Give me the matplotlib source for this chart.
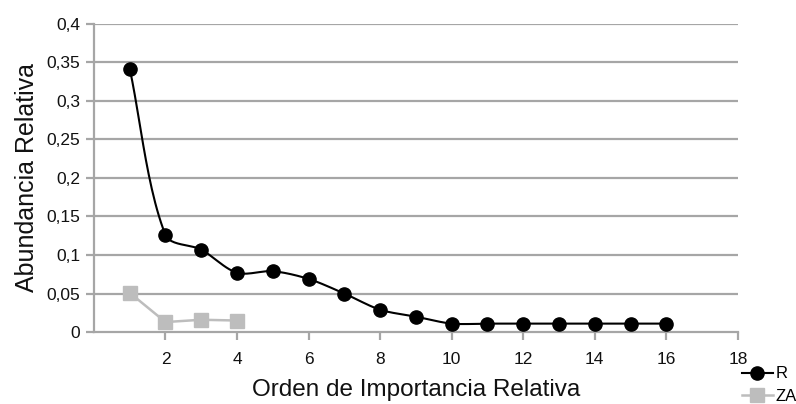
import numpy as np
import matplotlib
matplotlib.use("Agg")
import matplotlib.pyplot as plt
from matplotlib.ticker import FuncFormatter

plt.rcParams['font.family'] = ['Liberation Sans', 'DejaVu Sans']

# data
orden_r = [1, 2, 3, 4, 5, 6, 7, 8, 9, 10, 11, 12, 13, 14, 15, 16]
abund_r = [0.342, 0.126, 0.107, 0.077, 0.079, 0.069, 0.050, 0.029, 0.020,
           0.011, 0.011, 0.011, 0.011, 0.011, 0.011, 0.011]
orden_za = [1, 2, 3, 4]
abund_za = [0.051, 0.013, 0.016, 0.015]

X_MAX, Y_MAX = 18, 0.4
AX_BOX = [0.118, 0.178, 0.809, 0.763]
FIG_W, FIG_H = 7.96, 4.04


def smooth(x, y, sx, sy, k=0.3, n=25):
    # smoothed line like the spreadsheet one: bezier pieces built in
    # screen space, tangent along neighbour chord, handle = k * segment
    p = np.column_stack([np.asarray(x, float) * sx, np.asarray(y, float) * sy])
    npts = len(p)
    tang = np.zeros_like(p)
    for i in range(npts):
        a = p[max(i - 1, 0)]
        b = p[min(i + 1, npts - 1)]
        v = b - a
        tang[i] = v / np.hypot(*v)
    t = np.linspace(0, 1, n)[:, None]
    out = []
    for i in range(npts - 1):
        L = np.hypot(*(p[i + 1] - p[i]))
        c1 = p[i] + k * L * tang[i]
        c2 = p[i + 1] - k * L * tang[i + 1]
        seg = (1 - t)**3 * p[i] + 3 * (1 - t)**2 * t * c1 \
            + 3 * (1 - t) * t**2 * c2 + t**3 * p[i + 1]
        out.append(seg)
    out = np.vstack(out)
    return out[:, 0] / sx, out[:, 1] / sy


fig = plt.figure(figsize=(FIG_W, FIG_H), dpi=100)
ax = fig.add_axes(AX_BOX)

grey = '#a6a6a6'
for yv in np.arange(0.05, 0.401, 0.05):
    ax.axhline(yv, color=grey, lw=1.6, zorder=1)

px_x = AX_BOX[2] * FIG_W * 100 / X_MAX
px_y = AX_BOX[3] * FIG_H * 100 / Y_MAX
cx, cy = smooth(orden_r, abund_r, px_x, px_y)
ax.plot(cx, cy, color='black', lw=1.5, zorder=3)
ax.plot(orden_r, abund_r, ls='none', marker='o', ms=9.5, color='black', zorder=4)
ax.plot(orden_za, abund_za, color='#bdbdbd', lw=1.8, marker='s', ms=10,
        zorder=3)

ax.set_xlim(0, X_MAX)
ax.set_ylim(0, Y_MAX)
ax.set_xticks(range(2, 19, 2))
ax.set_yticks(np.arange(0, 0.401, 0.05))
fmt = FuncFormatter(lambda v, p: ('%g' % round(v, 2)).replace('.', ','))
ax.yaxis.set_major_formatter(fmt)

for s in ['top', 'right']:
    ax.spines[s].set_visible(False)
for s in ['left', 'bottom']:
    ax.spines[s].set_color(grey)
    ax.spines[s].set_linewidth(1.6)
ax.tick_params(axis='both', colors=grey, width=1.6, length=6,
               labelcolor='#111111', labelsize=12.5)
ax.tick_params(axis='x', pad=8)
ax.tick_params(axis='y', pad=4)

ax.set_xlabel('Orden de Importancia Relativa', fontsize=17.5, color='#111111',
              labelpad=9)
ax.set_ylabel('Abundancia Relativa', fontsize=18, color='#111111', labelpad=5)

h1, = ax.plot([], [], color='black', lw=1.5, marker='o', ms=9.5)
h2, = ax.plot([], [], color='#bdbdbd', lw=1.8, marker='s', ms=10)
fig.legend([h1, h2], ['R', 'ZA'], loc='lower right',
           bbox_to_anchor=(1.02, -0.037), frameon=False, fontsize=12,
           handlelength=1.9, handletextpad=0.15, labelspacing=0.45)

fig.savefig('out.png', dpi=100)
